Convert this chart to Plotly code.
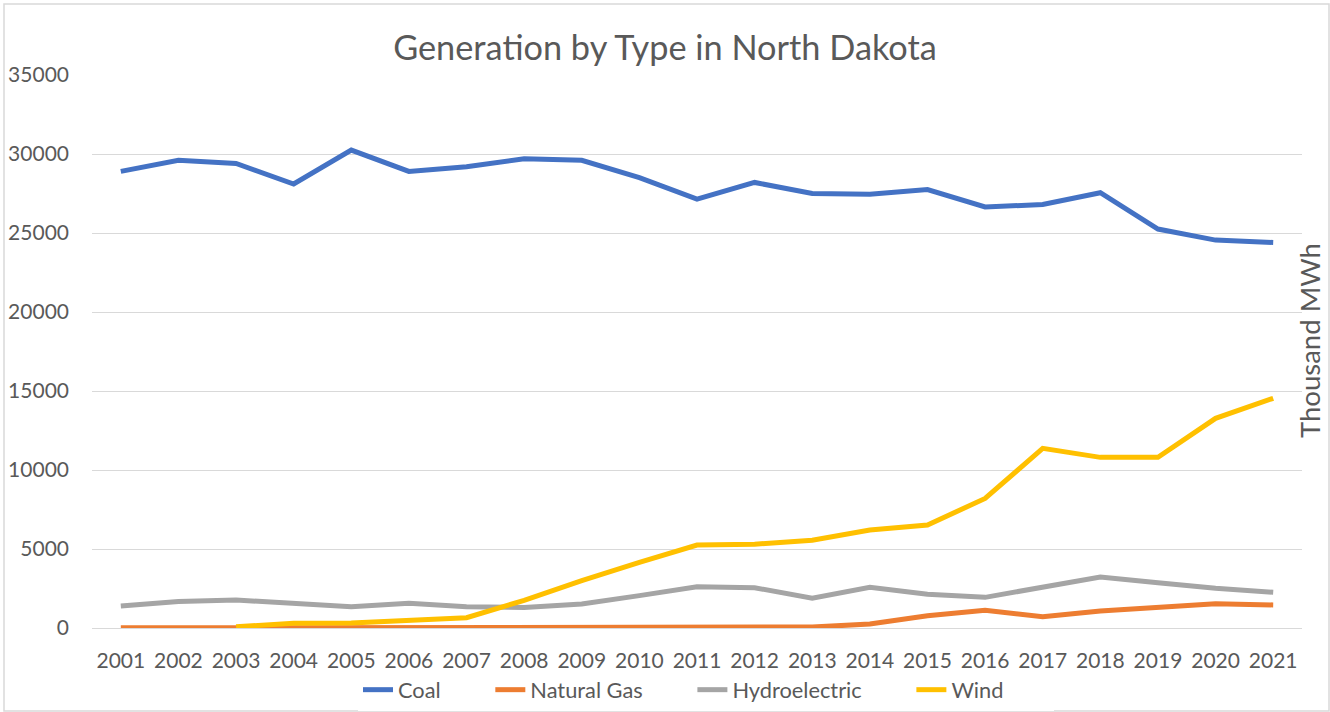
import plotly.graph_objects as go

years = [str(y) for y in range(2001, 2022)]
coal = [28900, 29600, 29400, 28100, 30250, 28900, 29200, 29700, 29600, 28500, 27150,
        28200, 27500, 27450, 27750, 26650, 26800, 27550, 25250, 24550, 24400]
natural_gas = [10, 10, 10, 10, 10, 20, 20, 20, 30, 30, 30,
               30, 60, 250, 780, 1120, 720, 1080, 1300, 1540, 1460]
hydro = [1390, 1670, 1770, 1580, 1350, 1560, 1350, 1300, 1520, 2050, 2610,
         2550, 1880, 2570, 2130, 1940, 2610, 3230, 2870, 2510, 2260]
wind = [None, None, 80, 300, 320, 450, 650, 1750, 3000, 4150, 5250,
        5300, 5550, 6200, 6520, 8200, 11370, 10800, 10800, 13270, 14540]

series = [("Coal", coal, "#4472C4"), ("Natural Gas", natural_gas, "#ED7D31"),
          ("Hydroelectric", hydro, "#A5A5A5"), ("Wind", wind, "#FFC000")]

PAD = "\u00a0" * 8
fig = go.Figure()
for name, vals, col in series:
    fig.add_trace(go.Scatter(x=years, y=vals, name=name + PAD, mode="lines",
                             line=dict(color=col, width=5, shape="linear"),
                             connectgaps=False, hovertemplate=name + ": %{y}<extra></extra>"))

W, H = 1330, 712
L, R, T, B = 92, 28, 75, 84
pw, ph = W - L - R, H - T - B

def px(x):
    return (x - L) / pw

def py(y):
    return (H - B - y) / ph

font_fam = "Lato, 'Open Sans', sans-serif"
fig.update_layout(
    width=W, height=H,
    margin=dict(l=L, r=R, t=T, b=B, autoexpand=False),
    paper_bgcolor="white", plot_bgcolor="white",
    title=dict(text="Generation by Type in North Dakota", x=0.5, xanchor="center",
               xref="container", yref="container",
               y=1 - 48 / H, yanchor="middle",
               font=dict(family=font_fam, size=34.3, color="#595959")),
    font=dict(family=font_fam, color="#595959", size=21),
    showlegend=True,
    legend=dict(orientation="h", xref="container", x=358 / W, xanchor="left",
                yref="container", y=1 - 690 / H, yanchor="middle",
                font=dict(size=21.8, color="#595959"), itemwidth=30, tracegroupgap=0),
    xaxis=dict(type="category", range=[-0.5, 20.5], showgrid=False, showline=False,
               ticks="", tickfont=dict(size=21, color="#595959"), zeroline=False,
               automargin=False, ticklabelstandoff=18),
    yaxis=dict(range=[0, 35000], dtick=5000, showgrid=True, gridcolor="#D9D9D9",
               gridwidth=1, zeroline=True, zerolinecolor="#D9D9D9", zerolinewidth=1,
               tickfont=dict(size=21, color="#595959"), ticks="", showline=False,
               tickformat="d", ticklabelstandoff=22, automargin=False),
)

fig.add_annotation(text="Thousand MWh", xref="paper", yref="paper",
                   x=px(1309), y=py(341), textangle=-90, showarrow=False,
                   font=dict(family=font_fam, size=27.5, color="#595959"),
                   xanchor="center", yanchor="middle")

fig.add_shape(type="rect", xref="paper", yref="paper",
              x0=px(4), x1=px(1329), y0=py(4), y1=py(711),
              line=dict(color="#D9D9D9", width=1.5), fillcolor="rgba(0,0,0,0)", layer="below")

fig.write_html("out.html", config={"displayModeBar": False},
               post_script="document.body.style.margin='0';")
